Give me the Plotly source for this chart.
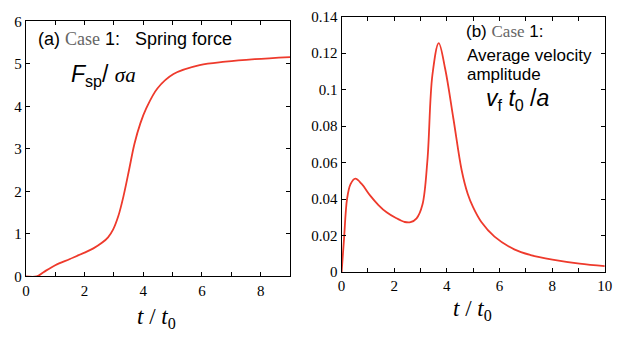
import plotly.graph_objects as go

# Panel (a): spring force
t_a = [0, 0.37, 0.6, 1.0, 1.5, 2.0, 2.3, 2.59, 2.8, 2.97, 3.15, 3.33, 3.52, 3.70, 3.9, 4.1, 4.48, 5.03, 5.92, 6.8, 7.8, 9.0]
f_sp = [0, 0, 0.1, 0.263, 0.41, 0.56, 0.66, 0.79, 0.92, 1.1, 1.42, 1.9, 2.52, 3.12, 3.6, 3.95, 4.42, 4.76, 4.97, 5.05, 5.11, 5.16]

# Panel (b): average velocity amplitude
t_b = [0, 0.09, 0.21, 0.34, 0.52, 0.77, 1.08, 1.4, 1.71, 2.05, 2.4, 2.62, 2.85, 3.07, 3.26, 3.45, 3.69, 3.94, 4.25, 4.56, 4.79, 5.0, 5.31, 5.81, 6.56, 7.18, 8.01, 9.04, 10]
v_f = [0, 0.0178, 0.0404, 0.0482, 0.0512, 0.0482, 0.0421, 0.0368, 0.0328, 0.0298, 0.0275, 0.0274, 0.0295, 0.0369, 0.0612, 0.108, 0.1255, 0.111, 0.0839, 0.056, 0.043, 0.0355, 0.0275, 0.0195, 0.0125, 0.0094, 0.0069, 0.0047, 0.0033]

xa_ticks = list(range(0, 10))
xa_text = [str(v) if v % 2 == 0 else "" for v in xa_ticks]
ya_ticks = list(range(0, 7))
ya_text = [str(v) for v in ya_ticks]
xb_ticks = list(range(0, 11))
xb_text = [str(v) if v % 2 == 0 else "" for v in xb_ticks]
yb_ticks = [0, 0.02, 0.04, 0.06, 0.08, 0.1, 0.12, 0.14]
yb_text = ["0", "0.02", "0.04", "0.06", "0.08", "0.1", "0.12", "0.14"]

RED = "#ee3a2c"
SERIF = "Liberation Serif"
SANS = "Liberation Sans"


def serif_span(s, color="#000", size=None):
    extra = f";font-size:{size}px" if size else ""
    return f"<span style=\"font-family:'Liberation Serif';color:{color}{extra}\">{s}</span>"


fig = go.Figure()
fig.add_trace(go.Scatter(x=t_a, y=f_sp, mode="lines", line=dict(color=RED, width=1.8, shape="spline", smoothing=1.0),
                         xaxis="x", yaxis="y", showlegend=False))
fig.add_trace(go.Scatter(x=t_b, y=v_f, mode="lines", line=dict(color=RED, width=1.8, shape="spline", smoothing=1.0),
                         xaxis="x2", yaxis="y2", showlegend=False))

axcommon = dict(showline=True, linecolor="black", linewidth=1.2, mirror="allticks", ticks="inside",
                ticklen=4, tickcolor="black", showgrid=False, zeroline=False, ticklabeloverflow="allow",
                tickfont=dict(family=SERIF, size=15, color="black"), tickmode="array")

fig.update_layout(
    width=618, height=339, margin=dict(l=0, r=0, t=0, b=0),
    plot_bgcolor="white", paper_bgcolor="white",
    font=dict(family=SERIF, color="black"),
    xaxis=dict(domain=[0.0361, 0.4720], range=[0, 9], tickvals=xa_ticks, ticktext=xa_text,
               anchor="y", **axcommon),
    yaxis=dict(domain=[0.169, 0.9587], range=[0, 6], tickvals=ya_ticks, ticktext=ya_text,
               anchor="x", **axcommon),
    xaxis2=dict(domain=[0.5571, 0.9914], range=[0, 10], tickvals=xb_ticks, ticktext=xb_text,
                anchor="y2", **axcommon),
    yaxis2=dict(domain=[0.182, 0.9735], range=[0, 0.14], tickvals=yb_ticks, ticktext=yb_text,
                anchor="x2", **axcommon),
)


def A(x, y, text, size, family=SANS, xanchor="left"):
    return dict(x=x / 618, y=1 - y / 339, xref="paper", yref="paper", showarrow=False,
                xanchor=xanchor, yanchor="middle", text=text, font=dict(family=family, size=size, color="black"))


tlabel = "<i>t</i> / <i>t</i><sub>0</sub>"
ann = [
    A(156, 325, tlabel, 23, SERIF, "center"),
    A(478, 317, tlabel, 23, SERIF, "center"),
    A(33, 33, "(a) " + serif_span("Case", "#666") + " 1:   Spring force", 18),
    A(66, 71, "<i>F</i><sub>sp</sub>/ " + serif_span("<i>σa</i>", size=21), 23),
    A(469, 25, "(b) " + serif_span("Case", "#666") + " 1:", 17),
    A(470, 50, "Average velocity", 17),
    A(470, 70, "amplitude", 17),
    A(490, 96, "<i>v</i><sub>f</sub> <i>t</i><sub>0</sub> /<i>a</i>", 23),
]
fig.update_layout(annotations=ann)

fig.write_html("out.html")
